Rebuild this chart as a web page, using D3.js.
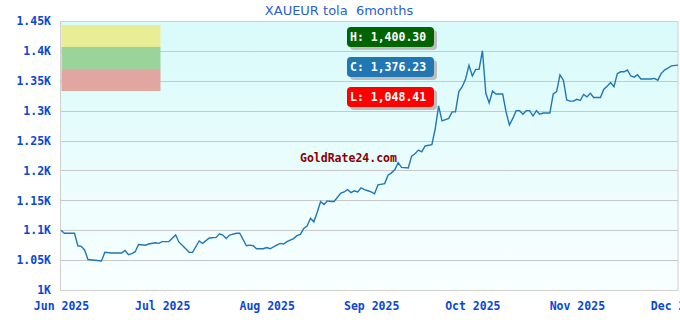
<!DOCTYPE html>
<html>
<head>
<meta charset="utf-8">
<script src="https://cdn.jsdelivr.net/npm/d3@7"></script>
<style>
  body { margin: 0; background: #fff; }
  svg { display: block; }
</style>
</head>
<body>
<div id="chart"></div>
<script>
// price data (XAUEUR per tola)
var dates = [
  "2025-06-01","2025-06-02","2025-06-05","2025-06-06","2025-06-07","2025-06-08","2025-06-09","2025-06-13","2025-06-14","2025-06-16",
  "2025-06-19","2025-06-20","2025-06-21","2025-06-22","2025-06-23","2025-06-24","2025-06-26","2025-06-27","2025-06-29","2025-06-30",
  "2025-07-01","2025-07-03","2025-07-05","2025-07-06","2025-07-08","2025-07-09","2025-07-10","2025-07-12","2025-07-13","2025-07-15",
  "2025-07-17","2025-07-18","2025-07-19","2025-07-20","2025-07-21","2025-07-23","2025-07-24","2025-07-26","2025-07-27","2025-07-28",
  "2025-07-29","2025-07-31","2025-08-01","2025-08-02","2025-08-04","2025-08-05","2025-08-06","2025-08-07","2025-08-09","2025-08-10",
  "2025-08-11","2025-08-12","2025-08-13","2025-08-14","2025-08-15","2025-08-16","2025-08-17","2025-08-18","2025-08-19","2025-08-20",
  "2025-08-21","2025-08-23","2025-08-24","2025-08-25","2025-08-26","2025-08-27","2025-08-28","2025-08-29","2025-08-30","2025-08-31",
  "2025-09-01","2025-09-02","2025-09-03","2025-09-05","2025-09-06","2025-09-07","2025-09-08","2025-09-09","2025-09-10","2025-09-12",
  "2025-09-13","2025-09-14","2025-09-15","2025-09-16","2025-09-17","2025-09-19","2025-09-20","2025-09-21","2025-09-22","2025-09-24",
  "2025-09-25","2025-09-26","2025-09-27","2025-09-28","2025-09-29","2025-09-30","2025-10-01","2025-10-02","2025-10-03","2025-10-04",
  "2025-10-05","2025-10-06","2025-10-07","2025-10-08","2025-10-10","2025-10-11","2025-10-12","2025-10-13","2025-10-14","2025-10-15",
  "2025-10-16","2025-10-17","2025-10-18","2025-10-19","2025-10-20","2025-10-21","2025-10-22","2025-10-24","2025-10-25","2025-10-26",
  "2025-10-27","2025-10-28","2025-10-29","2025-10-30","2025-10-31","2025-11-01","2025-11-02","2025-11-03","2025-11-04","2025-11-05",
  "2025-11-06","2025-11-08","2025-11-09","2025-11-10","2025-11-11","2025-11-12","2025-11-13","2025-11-14","2025-11-15","2025-11-16",
  "2025-11-17","2025-11-18","2025-11-19","2025-11-20","2025-11-23","2025-11-24","2025-11-25","2025-11-26","2025-11-27","2025-11-28",
  "2025-11-29","2025-12-01"
];
var prices = [
  1100,1095,1095,1074,1073,1067,1051,1048.4,1063,1062,
  1062,1066,1059,1061,1064,1076,1075,1077,1079,1078,
  1081,1081,1092,1080,1069,1063,1063,1082,1078,1087,
  1088,1094,1092,1086,1092,1095,1095,1074,1075,1074,
  1069,1069,1071,1069,1075,1078,1077,1081,1086,1091,
  1093,1103,1107,1120,1114,1130,1148,1143,1149,1148,
  1148,1162,1164,1168,1163,1166,1164,1171,1168,1166,
  1164,1161,1176,1178,1192,1196,1201,1213,1205,1204,
  1224,1228,1234,1231,1241,1243,1270,1308,1283,1287,
  1298,1298,1332,1340,1353,1376,1358,1369,1369,1400.3,
  1329,1313,1333,1328,1328,1298,1276,1287,1300,1300,
  1294,1300,1300,1291,1300,1294,1296,1296,1328,1332,
  1360,1351,1318,1316,1316,1319,1317,1327,1323,1329,
  1322,1322,1336,1341,1347,1340,1362,1365,1365,1368,
  1358,1356,1360,1353,1353,1354,1351,1362,1368,1371,
  1375,1376.23
];
var yTicks = [1000, 1050, 1100, 1150, 1200, 1250, 1300, 1350, 1400, 1450];
var xTicks = ["2025-06-01","2025-07-01","2025-08-01","2025-09-01","2025-10-01","2025-11-01","2025-12-01"];
var statLabels = ["H: 1,400.30", "C: 1,376.23", "L: 1,048.41"];
var statColors = ["#006400", "#2077b4", "#ff0000"];

var width = 680;
var height = 320;
var plot = {left: 61, right: 678, top: 21, bottom: 290};
var mono = "'DejaVu Sans Mono', monospace";
var labelBlue = "#0a47d6";

var parse = d3.timeParse("%Y-%m-%d");
var data = dates.map(function(d, i) { return {date: parse(d), value: prices[i]}; });

var x = d3.scaleTime()
    .domain([parse("2025-06-01"), parse("2025-12-01")])
    .range([plot.left, plot.right]);
var y = d3.scaleLinear()
    .domain([1000, 1450])
    .range([plot.bottom, plot.top]);

var svg = d3.select("#chart").append("svg")
    .attr("width", width)
    .attr("height", height);

// plot background gradient
var grad = svg.append("defs").append("linearGradient")
    .attr("id", "bg")
    .attr("x1", 0).attr("y1", 0).attr("x2", 0).attr("y2", 1);
grad.append("stop").attr("offset", "0%").attr("stop-color", "#d8fafa");
grad.append("stop").attr("offset", "100%").attr("stop-color", "#f9ffff");

svg.append("rect")
    .attr("x", plot.left - 0.5)
    .attr("y", plot.top + 0.5)
    .attr("width", plot.right - plot.left + 0.5)
    .attr("height", plot.bottom - plot.top)
    .attr("fill", "url(#bg)")
    .attr("stroke", "#d0d0d0");

// grid lines
svg.append("g").selectAll("line")
    .data(yTicks.slice(1, -1))
    .enter().append("line")
    .attr("x1", plot.left)
    .attr("x2", plot.right)
    .attr("y1", function(d) { return Math.round(y(d)) + 0.5; })
    .attr("y2", function(d) { return Math.round(y(d)) + 0.5; })
    .attr("stroke", "#c8c8c8");

// legend colour blocks in the top left corner
var blocks = ["#e9ee96", "#9bd49a", "#e1a6a0"];
svg.append("g").selectAll("rect")
    .data(blocks)
    .enter().append("rect")
    .attr("x", plot.left + 0.5)
    .attr("y", function(d, i) { return 25 + i * 22; })
    .attr("width", 99)
    .attr("height", 22)
    .attr("fill", function(d) { return d; });

// y axis
var yaxis = d3.axisLeft(y)
    .tickValues(yTicks)
    .tickSize(0)
    .tickPadding(10)
    .tickFormat(function(d) { return (d / 1000) + "K"; });
var gy = svg.append("g")
    .attr("transform", "translate(" + plot.left + ",0)")
    .call(yaxis);
gy.select(".domain").remove();
gy.selectAll("text")
    .attr("fill", labelBlue)
    .style("font-family", mono)
    .style("font-weight", "bold")
    .style("font-size", "11.5px");

// x axis
var xaxis = d3.axisBottom(x)
    .tickValues(xTicks.map(parse))
    .tickSize(0)
    .tickPadding(12)
    .tickFormat(d3.timeFormat("%b %Y"));
var gx = svg.append("g")
    .attr("transform", "translate(0," + plot.bottom + ")")
    .call(xaxis);
gx.select(".domain").remove();
gx.selectAll("text")
    .attr("fill", labelBlue)
    .style("font-family", mono)
    .style("font-weight", "bold")
    .style("font-size", "11.5px");

// watermark
svg.append("text")
    .text("GoldRate24.com")
    .attr("x", 300)
    .attr("y", 162)
    .attr("fill", "#8b0000")
    .style("font-family", mono)
    .style("font-weight", "bold")
    .style("font-size", "11.5px");

// price line
var line = d3.line()
    .x(function(d) { return x(d.date); })
    .y(function(d) { return y(d.value); });
svg.append("path")
    .datum(data)
    .attr("d", line)
    .attr("fill", "none")
    .attr("stroke", "#2077b4")
    .attr("stroke-width", 1.4);

// high / current / low badges
var badges = svg.append("g").selectAll("g")
    .data(statLabels)
    .enter().append("g")
    .attr("transform", function(d, i) { return "translate(347," + (27 + i * 30) + ")"; });
badges.append("rect")
    .attr("x", 3).attr("y", 3)
    .attr("width", 87).attr("height", 20)
    .attr("rx", 4)
    .attr("fill", "#bdbdbd");
badges.append("rect")
    .attr("width", 87).attr("height", 20)
    .attr("rx", 4)
    .attr("fill", function(d, i) { return statColors[i]; });
badges.append("text")
    .text(function(d) { return d; })
    .attr("x", 3)
    .attr("y", 14)
    .attr("fill", "#fff")
    .style("font-family", mono)
    .style("font-weight", "bold")
    .style("font-size", "11.5px");

// title
svg.append("text")
    .text("XAUEUR tola  6months")
    .attr("x", 339)
    .attr("y", 15)
    .attr("text-anchor", "middle")
    .attr("fill", "#2a5fd0")
    .style("white-space", "pre")
    .style("font-family", "'DejaVu Sans', sans-serif")
    .style("font-size", "13px");
</script>
</body>
</html>
